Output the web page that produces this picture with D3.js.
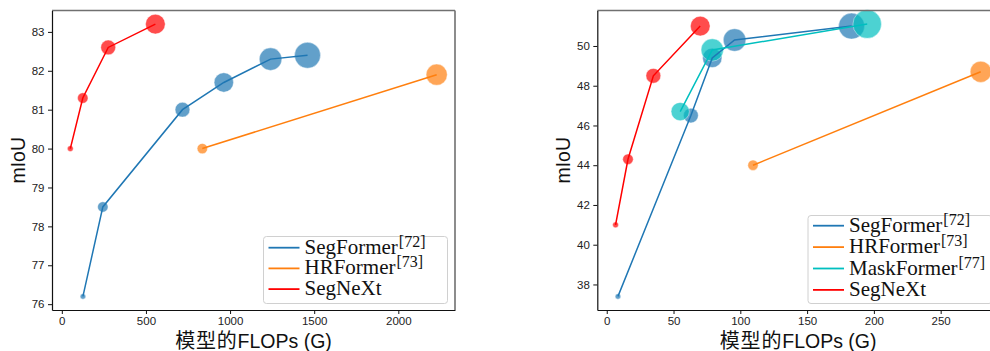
<!DOCTYPE html>
<html>
<head>
<meta charset="utf-8">
<script src="https://cdn.jsdelivr.net/npm/d3@7"></script>
<style>
  body { margin: 0; background: #fff; }
  svg { display: block; }
</style>
</head>
<body>
<script>
// ---- Cityscapes panel (left) ----
const segformerCityFlops = [125.5, 243.7, 717.1, 962.8, 1240.6, 1460.4];
const segformerCityMiou = [76.2, 78.5, 81.0, 81.7, 82.3, 82.4];
const segformerCityParams = [3.8, 13.7, 27.5, 47.3, 64.1, 84.7];

const hrformerCityFlops = [835, 2228];
const hrformerCityMiou = [80.0, 81.9];
const hrformerCityParams = [13.5, 56.2];

const segnextCityFlops = [50.5, 124.6, 275.7, 556];
const segnextCityMiou = [80.0, 81.3, 82.6, 83.2];
const segnextCityParams = [4.3, 13.9, 27.6, 48.9];

const cityXTicks = [0, 500, 1000, 1500, 2000];
const cityYTicks = [76, 77, 78, 79, 80, 81, 82, 83];

// ---- ADE20K panel (right) ----
const segformerAdeFlops = [8.4, 63, 79.0, 95.7, 183.3];
const segformerAdeMiou = [37.4, 46.5, 49.4, 50.3, 51.0];
const segformerAdeParams = [3.8, 27.5, 47.3, 64.1, 84.7];

const hrformerAdeFlops = [109.5, 280];
const hrformerAdeMiou = [44.0, 48.7];
const hrformerAdeParams = [13.5, 56.2];

const maskformerAdeFlops = [55, 79, 195];
const maskformerAdeMiou = [46.7, 49.8, 51.1];
const maskformerAdeParams = [42, 63, 102];

const segnextAdeFlops = [6.6, 15.9, 34.9, 70.0];
const segnextAdeMiou = [41.0, 44.3, 48.5, 51.0];
const segnextAdeParams = [4.3, 13.9, 27.6, 48.9];

const adeXTicks = [0, 50, 100, 150, 200, 250];
const adeYTicks = [38, 40, 42, 44, 46, 48, 50];

const xLabel = "FLOPs (G)";
const xLabelCjk = "模型的";
const yLabel = "mIoU";

const W = 990, H = 351;
const sans = "'Liberation Sans', Arial, sans-serif";
const serif = "'Liberation Serif', 'Times New Roman', serif";

const svg = d3.select("body").append("svg")
  .attr("width", W)
  .attr("height", H);

// marker area follows the parameter count
const rScale = d3.scaleSqrt().domain([0, 100]).range([0, 14.1]);

function series(name, ref, color, flops, miou, params) {
  return { name, ref, color, pts: flops.map((f, i) => ({ x: f, y: miou[i], p: params[i] })) };
}

function padded(vals) {
  const [lo, hi] = d3.extent(vals);
  const m = (hi - lo) * 0.05;
  return [lo - m, hi + m];
}

function drawPanel(box, list, xTicks, yTicks, legendBox, rowStep) {
  const all = list.flatMap((s) => s.pts);
  const x = d3.scaleLinear().domain(padded(all.map((d) => d.x))).range([box.left, box.right]);
  const y = d3.scaleLinear().domain(padded(all.map((d) => d.y))).range([box.bottom, box.top]);

  const g = svg.append("g");

  // markers first, lines above them
  list.forEach((s) => {
    g.append("g").selectAll("circle")
      .data(s.pts)
      .join("circle")
      .attr("cx", (d) => x(d.x))
      .attr("cy", (d) => y(d.y))
      .attr("r", (d) => rScale(d.p))
      .attr("fill", s.color)
      .attr("fill-opacity", 0.7)
      .attr("stroke", "#fff")
      .attr("stroke-opacity", 0.7)
      .attr("stroke-width", 0.6);
  });

  const line = d3.line().x((d) => x(d.x)).y((d) => y(d.y));
  list.forEach((s) => {
    g.append("path")
      .attr("d", line(s.pts))
      .attr("fill", "none")
      .attr("stroke", s.color)
      .attr("stroke-width", 1.5);
  });

  // spines
  g.append("line").attr("x1", box.left).attr("x2", box.right).attr("y1", box.top).attr("y2", box.top)
    .attr("stroke", "#707070").attr("stroke-width", 1.6);
  g.append("line").attr("x1", box.right).attr("x2", box.right).attr("y1", box.top).attr("y2", box.bottom)
    .attr("stroke", "#707070").attr("stroke-width", 1.6);

  const xAxis = g.append("g")
    .attr("transform", `translate(0,${box.bottom})`)
    .call(d3.axisBottom(x).tickValues(xTicks).tickFormat(d3.format("d"))
      .tickSize(4).tickPadding(3).tickSizeOuter(0));
  const yAxis = g.append("g")
    .attr("transform", `translate(${box.left},0)`)
    .call(d3.axisLeft(y).tickValues(yTicks).tickFormat(d3.format("d"))
      .tickSize(4).tickPadding(3.5).tickSizeOuter(0));

  [xAxis, yAxis].forEach((a) => {
    a.attr("font-family", sans).attr("font-size", 11.5);
    a.select(".domain").attr("stroke", "#111").attr("stroke-width", 1.2);
    a.selectAll(".tick line").attr("stroke", "#111");
    a.selectAll(".tick text").attr("fill", "#222");
  });

  // axis titles
  const cx = (box.left + box.right) / 2;
  const xt = g.append("text")
    .attr("x", cx)
    .attr("y", 348)
    .attr("text-anchor", "middle")
    .attr("font-family", sans)
    .attr("font-size", 19.5)
    .attr("fill", "#111");
  xt.append("tspan").attr("font-size", 20).attr("font-family", "'Noto Sans CJK SC', sans-serif")
    .attr("letter-spacing", 0.8).text(xLabelCjk);
  xt.append("tspan").text(xLabel);

  g.append("text")
    .attr("transform", `translate(${box.left - 27},${(box.top + box.bottom) / 2}) rotate(-90)`)
    .attr("text-anchor", "middle")
    .attr("font-family", sans)
    .attr("font-size", 19.5)
    .attr("fill", "#111")
    .text(yLabel);

  // legend
  const lg = g.append("g");
  lg.append("rect")
    .attr("x", legendBox.x)
    .attr("y", legendBox.y)
    .attr("width", legendBox.w)
    .attr("height", legendBox.h)
    .attr("rx", 3)
    .attr("fill", "#fff")
    .attr("fill-opacity", 0.85)
    .attr("stroke", "#d0d0d0")
    .attr("stroke-width", 1);

  const rows = lg.selectAll("g.row").data(list).join("g")
    .attr("class", "row")
    .attr("transform", (d, i) => `translate(${legendBox.x},${legendBox.firstRow + i * rowStep})`);

  rows.append("line")
    .attr("x1", 5).attr("x2", 36)
    .attr("y1", 0).attr("y2", 0)
    .attr("stroke", (d) => d.color)
    .attr("stroke-width", 1.8);

  const txt = rows.append("text")
    .attr("x", 41)
    .attr("y", 6)
    .attr("font-family", serif)
    .attr("font-size", 21)
    .attr("fill", "#111");
  txt.append("tspan").text((d) => d.name);
  txt.filter((d) => d.ref).append("tspan")
    .attr("dx", 1)
    .attr("dy", -7)
    .attr("font-size", 16)
    .text((d) => `[${d.ref}]`);
}

const blue = "#1f77b4", orange = "#ff7f0e", cyan = "#00bfbf", red = "#ff0000";

drawPanel(
  { left: 52, right: 455, top: 10.5, bottom: 310 },
  [
    series("SegFormer", "72", blue, segformerCityFlops, segformerCityMiou, segformerCityParams),
    series("HRFormer", "73", orange, hrformerCityFlops, hrformerCityMiou, hrformerCityParams),
    series("SegNeXt", "", red, segnextCityFlops, segnextCityMiou, segnextCityParams),
  ],
  cityXTicks, cityYTicks,
  { x: 263.5, y: 236.5, w: 184, h: 67, firstRow: 247.7 },
  20.7
);

drawPanel(
  { left: 597.3, right: 999, top: 10.5, bottom: 310 },
  [
    series("SegFormer", "72", blue, segformerAdeFlops, segformerAdeMiou, segformerAdeParams),
    series("HRFormer", "73", orange, hrformerAdeFlops, hrformerAdeMiou, hrformerAdeParams),
    series("MaskFormer", "77", cyan, maskformerAdeFlops, maskformerAdeMiou, maskformerAdeParams),
    series("SegNeXt", "", red, segnextAdeFlops, segnextAdeMiou, segnextAdeParams),
  ],
  adeXTicks, adeYTicks,
  { x: 808, y: 215.5, w: 184, h: 88, firstRow: 225.7 },
  21.4
);
</script>
</body>
</html>
